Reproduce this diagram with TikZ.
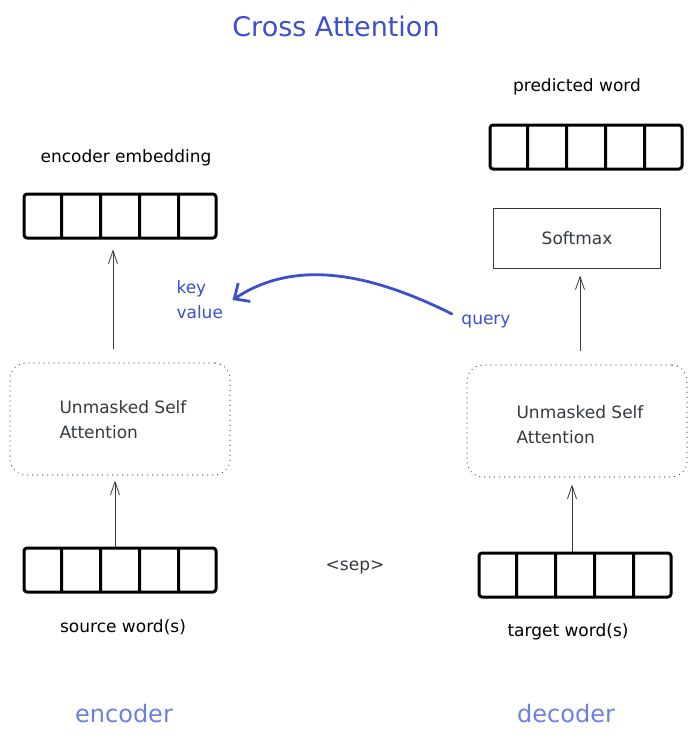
\documentclass[tikz,border=0pt]{standalone}
\usepackage{fontspec}
\setmainfont{DejaVu Sans}
\usetikzlibrary{arrows.meta, shapes.multipart}
\definecolor{titleblue}{HTML}{3B4FCF}
\definecolor{partblue}{HTML}{6A80E2}
\definecolor{inkgray}{HTML}{343A40}

\begin{document}
\begin{tikzpicture}[x=1pt, y=-1pt,
    vec/.style = {rectangle split, rectangle split horizontal,
      rectangle split parts=5,
      draw, line width=3pt, line join=round,
      text width=30pt, inner xsep=3pt, minimum height=44pt,
      rounded corners=3pt},
    sabox/.style = {draw=inkgray, line width=1.2pt, line cap=round,
      dash pattern=on 0pt off 5pt,
      rounded corners=16pt, minimum width=220pt, minimum height=112pt},
    lbl/.style = {font=\fontsize{17}{25}\selectfont},
    part/.style = {font=\fontsize{24}{28}\selectfont, text=partblue},
    up/.style = {-{Straight Barb[length=13pt,width=9pt]}, draw=inkgray,
      line width=0.8pt},
  ]
\useasboundingbox (0,0) rectangle (696,742);

\node[font=\fontsize{27}{30}\selectfont, text=titleblue] (T) at (336,26) {Cross Attention};

% encoder side
\node[lbl] (EEL) at (126,158) {encoder embedding};
\node[vec] (EE) at (120,216)
    {\nodepart{one}   {}
     \nodepart{two}   {}
     \nodepart{three} {}
     \nodepart{four}  {}
     \nodepart{five}  {}
    };
\node[sabox] (ESA) at (120,419) {};
\node[lbl, text=inkgray, align=left, anchor=west] (ESAT) at (56,420)
    {Unmasked Self\\Attention};
\node[vec] (SW) at (120,570)
    {\nodepart{one}   {}
     \nodepart{two}   {}
     \nodepart{three} {}
     \nodepart{four}  {}
     \nodepart{five}  {}
    };
\node[lbl] (SWL) at (123,627) {source word(s)};
\node[part] (ENC) at (124,714) {encoder};

\draw[up, shorten <=13pt, shorten >=10pt] ([xshift=-7pt]ESA.north) -- ([xshift=-7pt]EE.south);
\draw[up, shorten >=5pt] ([xshift=-5pt]SW.north) -- ([xshift=-5pt]ESA.south);

% decoder side
\node[lbl] (PWL) at (577,87) {predicted word};
\node[vec] (PW) at (586,147)
    {\nodepart{one}   {}
     \nodepart{two}   {}
     \nodepart{three} {}
     \nodepart{four}  {}
     \nodepart{five}  {}
    };
\node[draw=inkgray, line width=0.8pt, minimum width=167pt, minimum height=60pt,
      lbl, text=inkgray] (SM) at (577,238) {Softmax};
\node[sabox] (DSA) at (577,421) {};
\node[lbl, text=inkgray, align=left, anchor=west] (DSAT) at (513,425)
    {Unmasked Self\\Attention};
\node[vec] (TW) at (575,575)
    {\nodepart{one}   {}
     \nodepart{two}   {}
     \nodepart{three} {}
     \nodepart{four}  {}
     \nodepart{five}  {}
    };
\node[lbl] (TWL) at (568,632) {target word(s)};
\node[part] (DEC) at (566,714) {decoder};

\draw[up, shorten <=13pt, shorten >=7pt] ([xshift=3pt]DSA.north) -- ([xshift=3pt]SM.south);
\draw[up, shorten >=7pt] ([xshift=-3pt]TW.north) -- ([xshift=-5pt]DSA.south);

\node[lbl, text=inkgray] (SEP) at (355,567) {<sep>};

% cross attention
\node[lbl, text=titleblue, align=left, anchor=west] (KV) at (173,300) {key\\value};
\node[lbl, text=titleblue] (Q) at (486,322) {query};
\draw[titleblue, line width=2.8pt, line cap=round, line join=round,
      -{Straight Barb[length=12pt,width=22pt]}]
    ([xshift=-6pt,yshift=-2pt]Q.north west) .. controls (360,268) and (290,262) .. ([xshift=6pt]KV.east);
\end{tikzpicture}
\end{document}
